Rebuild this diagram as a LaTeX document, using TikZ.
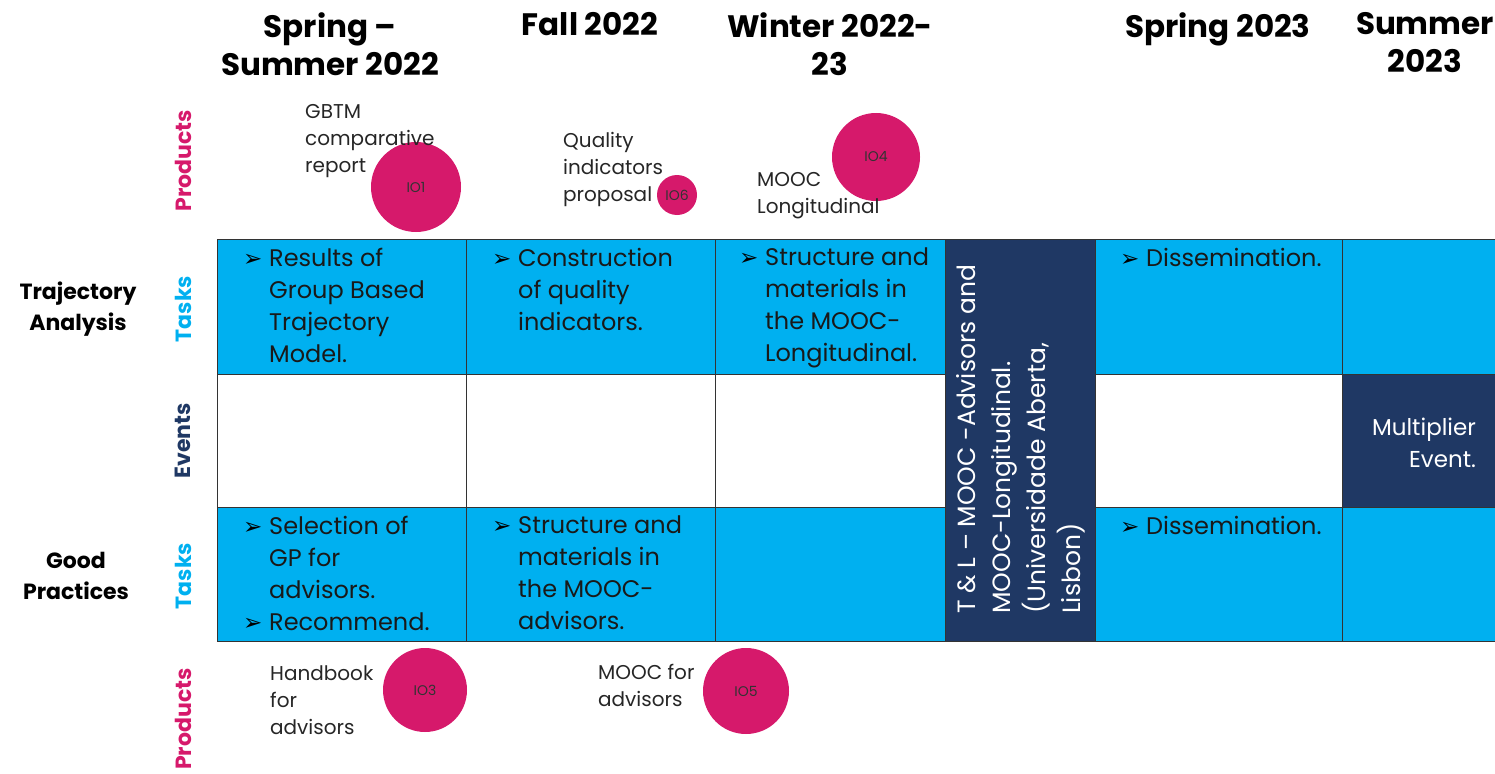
\documentclass[tikz,border=0pt]{standalone}
\usepackage{fontspec}
\setmainfont{Poppins}
\newfontfamily\symfont{DejaVu Sans}
\usetikzlibrary{positioning}
\definecolor{cellblue}{HTML}{00B0F0}
\definecolor{navy}{HTML}{1F3864}
\definecolor{iopink}{HTML}{D6196B}
\newcommand{\bul}{\makebox[26pt][l]{\symfont\fontsize{23}{23}\selectfont\color{black}➢}}
\newcommand{\ind}{\hspace*{26pt}}
\tikzset{
  cell/.style={draw=black!80, line width=0.8pt},
  head/.style={font=\fontsize{31}{38}\selectfont\bfseries, align=center, anchor=north, inner sep=0pt},
  rowlab/.style={rotate=90, font=\fontsize{22}{22}\selectfont\bfseries, inner sep=0pt},
  grouplab/.style={font=\fontsize{22}{31}\selectfont\bfseries, align=center, inner sep=0pt},
  item/.style={font=\fontsize{24}{32}\selectfont, align=left, anchor=north west, inner sep=0pt, text=black!90},
  prod/.style={font=\fontsize{20}{27}\selectfont, align=left, anchor=north west, inner sep=0pt, text=black!85},
  io/.style={circle, fill=iopink, text=black!80, minimum size=#1, inner sep=0pt, font=\fontsize{14}{14}\selectfont}
}
\begin{document}
\begin{tikzpicture}[x=1pt,y=-1pt]
\useasboundingbox (0,0) rectangle (1495,773);

\foreach \xa/\xb in {217/466,466/715,715/945,1095/1342,1342/1495}
{
    \draw[cell, fill=cellblue] (\xa,239) rectangle (\xb,374);
    \draw[cell, fill=white] (\xa,374) rectangle (\xb,507);
    \draw[cell, fill=cellblue] (\xa,507) rectangle (\xb,641);
}
\draw[cell, fill=navy] (945,239) rectangle (1095,641);
\draw[cell, fill=navy] (1342,374) rectangle (1495,507);

\node[head] (h1) at (330,12) {Spring --\\Summer 2022};
\node[head] (h2) at (590,12) {Fall 2022};
\node[head] (h3) at (830,12) {Winter 2022-\\23};
\node[head] (h4) at (1218,12) {Spring 2023};
\node[head] (h5) at (1425,12) {Summer\\2023};

\foreach \y/\txt/\col [count=\i] in {161/Products/iopink,309/Tasks/cellblue,441/Events/navy,576/Tasks/cellblue,719/Products/iopink}
{
    \node[rowlab, text=\col] (r\i) at (183,\y) {\txt};
}
\node[grouplab] (ta) at (78,309) {Trajectory\\Analysis};
\node[grouplab] (gp) at (76,576) {Good\\Practices};

\node[item] (t11) at (243,248) {\bul Results of\\\ind Group Based\\\ind Trajectory\\\ind Model.};
\node[item] (t12) at (492,248) {\bul Construction\\\ind of quality\\\ind indicators.};
\node[item] (t13) at (739,248) {\bul Structure and\\\ind materials in\\\ind the MOOC-\\\ind Longitudinal.};
\node[item] (t15) at (1120,248) {\bul Dissemination.};
\node[item] (t31) at (243,516) {\bul Selection of\\\ind GP for\\\ind advisors.\\\bul Recommend.};
\node[item] (t32) at (492,516) {\bul Structure and\\\ind materials in\\\ind the MOOC-\\\ind advisors.};
\node[item] (t35) at (1120,516) {\bul Dissemination.};

\node[item, rotate=90, text=white, font=\fontsize{25}{35}\selectfont] (tl) at (956,614)
    {T \& L -- MOOC -Advisors and\\MOOC-Longitudinal.\\(Universidade Aberta,\\Lisbon)};
\node[font=\fontsize{23}{32}\selectfont, align=right, text=white] (me) at (1424,443) {Multiplier\\Event.};

\node[io=90] (io1) at (416,187) {IO1};
\node[io=40] (io6) at (677,195) {IO6};
\node[io=88] (io4) at (876,157) {IO4};
\node[io=84] (io3) at (425,690) {IO3};
\node[io=86] (io5) at (746,691) {IO5};
\node[prod] (p1) at (305,104) {GBTM\\comparative\\report};
\node[prod] (p6) at (563,132) {Quality\\indicators\\proposal};
\node[prod] (p4) at (757,172) {MOOC\\Longitudinal};
\node[prod] (p3) at (270,665) {Handbook\\for\\advisors};
\node[prod] (p5) at (598,664) {MOOC for\\advisors};
\end{tikzpicture}
\end{document}
